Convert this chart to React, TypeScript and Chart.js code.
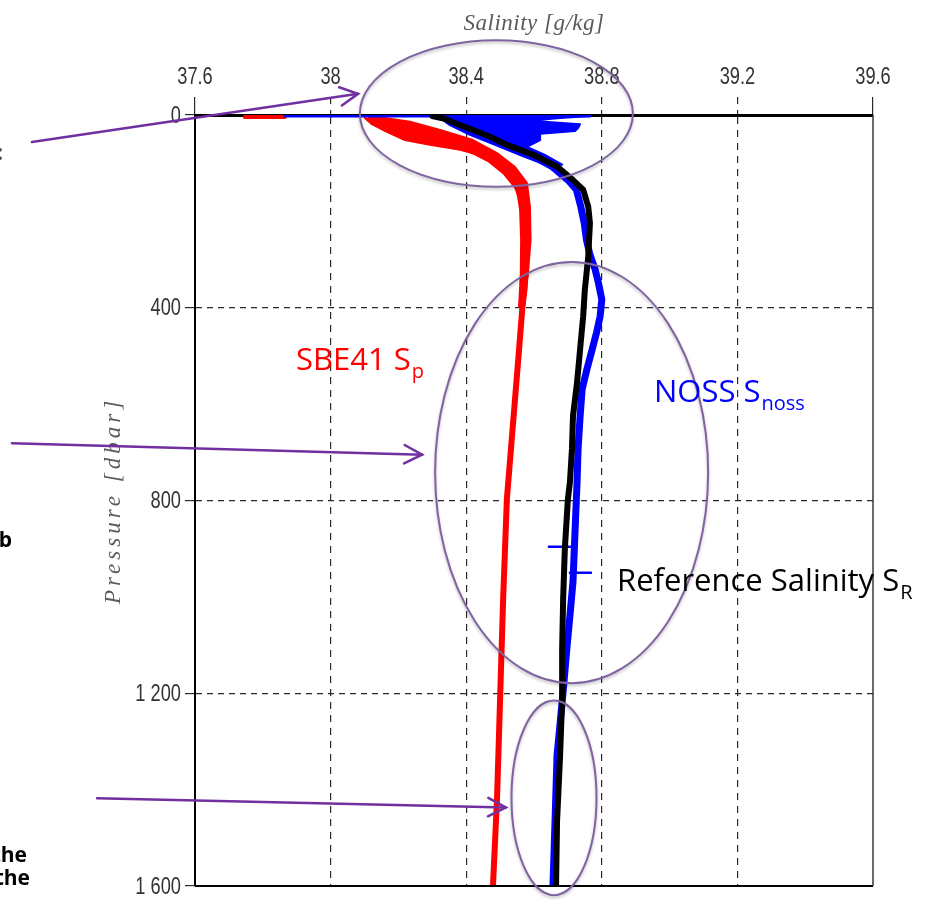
import React, { useEffect, useRef } from 'react';
import { Chart, registerables } from 'chart.js';

Chart.register(...registerables);

// ---- Axis ticks ----
const xTickValues = [37.6, 38, 38.4, 38.8, 39.2, 39.6];
const xTickLabels = ['37.6', '38', '38.4', '38.8', '39.2', '39.6'];
const yTickValues = [0, 400, 800, 1200, 1600];
const yTickLabels = ['0', '400', '800', '1 200', '1 600'];

// ---- Reference salinity S_R (black) ----
const refPressure = [2, 8, 17, 31, 45, 62, 83, 108, 135, 155, 190, 224, 294, 362, 418, 486, 555, 625, 693, 762, 797, 900, 1004, 1107, 1211, 1329, 1466, 1600];
const refSalinity = [38.30, 38.337, 38.367, 38.42, 38.47, 38.52, 38.60, 38.67, 38.715, 38.745, 38.76, 38.765, 38.76, 38.75, 38.745, 38.736, 38.727, 38.715, 38.712, 38.706, 38.70, 38.691, 38.686, 38.683, 38.683, 38.677, 38.668, 38.665];

// ---- NOSS S_noss (blue) ----
const nossPressure = [2, 8, 17, 31, 45, 62, 83, 108, 135, 155, 190, 224, 260, 290, 320, 348, 383, 418, 450, 480, 528, 569, 625, 693, 762, 865, 969, 1039, 1107, 1196, 1329, 1466, 1600];
const nossSalinity = [38.32, 38.40, 38.44, 38.48, 38.51, 38.54, 38.59, 38.655, 38.70, 38.725, 38.738, 38.748, 38.755, 38.765, 38.78, 38.79, 38.80, 38.795, 38.785, 38.774, 38.756, 38.742, 38.736, 38.73, 38.727, 38.721, 38.715, 38.706, 38.697, 38.686, 38.668, 38.662, 38.656];
// scattered near-surface NOSS envelope (outline of the spread of profiles)
const nossBandPressure = [2, 6, 12, 19, 27, 33, 39, 52, 66, 83, 103, 103, 83, 62, 41, 21, 6, 2];
const nossBandSalinity = [38.765, 38.677, 38.588, 38.736, 38.730, 38.721, 38.618, 38.618, 38.579, 38.632, 38.683, 38.632, 38.559, 38.485, 38.411, 38.352, 38.323, 38.323];
const nossSurfacePressure = [2, 2];
const nossSurfaceSalinity = [37.865, 38.765];
const nossSpikePressure = [896, 896, null, 950, 950];
const nossSpikeSalinity = [38.644, 38.706, null, 38.706, 38.768];

// ---- SBE41 S_p (red) ----
const sbePressure = [6, 14, 27, 41, 56, 72, 93, 118, 149, 186, 228, 294, 362, 397, 486, 590, 693, 797, 1004, 1211, 1418, 1600];
const sbeSalinity = [38.122, 38.146, 38.19, 38.264, 38.337, 38.411, 38.47, 38.514, 38.55, 38.568, 38.576, 38.577, 38.572, 38.566, 38.556, 38.544, 38.532, 38.52, 38.509, 38.50, 38.491, 38.479];
const sbeBandPressure = [6, 19, 33, 52, 62, 72, 87, 114, 155, 197, 259, 330, 397, 397, 330, 259, 190, 141, 108, 79, 52, 31, 14, 6, 4];
const sbeBandSalinity = [38.101, 38.122, 38.160, 38.219, 38.293, 38.382, 38.461, 38.514, 38.550, 38.559, 38.562, 38.561, 38.556, 38.571, 38.582, 38.590, 38.588, 38.579, 38.544, 38.491, 38.420, 38.323, 38.234, 38.160, 38.116];
const sbeSurfacePressure = [4, 4];
const sbeSurfaceSalinity = [37.747, 37.865];

// ---- Annotation shapes (in data units: salinity, pressure) ----
const ellipseShapes = [
  { s: 38.489, p: -3, ds: 0.4027, dp: 152 },
  { s: 38.711, p: 742, ds: 0.4027, dp: 437 },
  { s: 38.659, p: 1417, ds: 0.1254, dp: 202 },
];
const arrowShapes = [
  { s0: 37.119, p0: 56, s1: 38.081, p1: -44 },
  { s0: 37.060, p0: 681, s1: 38.270, p1: 705 },
  { s0: 37.311, p0: 1418, s1: 38.517, p1: 1437 },
];
const textLabels = [
  { main: 'SBE41 S', sub: 'p', s: 37.898, p: 530, color: '#ff0000' },
  { main: 'NOSS S', sub: 'noss', s: 38.954, p: 596, color: '#0000ff' },
  { main: 'Reference Salinity S', sub: 'R', s: 38.845, p: 987, color: '#000000' },
];

const zip = (xs: (number | null)[], ys: (number | null)[]) =>
  xs.map((v, i) => ({ x: v as any, y: ys[i] as any }));

const tickFont = "'Liberation Sans', Arial, sans-serif";

const overlayPlugin = {
  id: 'overlay',
  afterDraw(chart: any) {
    const { ctx, chartArea: a, scales } = chart;
    const X = (v: number) => scales.x.getPixelForValue(v);
    const Y = (v: number) => scales.y.getPixelForValue(v);
    ctx.save();

    // frame (bottom, right)
    ctx.setLineDash([]);
    ctx.strokeStyle = '#000';
    ctx.lineWidth = 2;
    ctx.beginPath();
    ctx.moveTo(a.left, a.bottom);
    ctx.lineTo(a.right, a.bottom);
    ctx.stroke();
    ctx.strokeStyle = '#3a3a3a';
    ctx.lineWidth = 1.5;
    ctx.beginPath();
    ctx.moveTo(a.right, a.top);
    ctx.lineTo(a.right, a.bottom);
    ctx.stroke();

    // tick labels (narrow, tall digits), placed on the scales' own ticks
    ctx.fillStyle = '#333';
    ctx.font = `24px ${tickFont}`;
    ctx.textBaseline = 'middle';
    ctx.textAlign = 'center';
    scales.x.ticks.forEach((t: any, i: number) => {
      ctx.save();
      ctx.translate(X(t.value), 77);
      ctx.scale(0.76, 1);
      ctx.fillText(xTickLabels[i], 0, 0);
      ctx.restore();
    });
    ctx.textAlign = 'right';
    scales.y.ticks.forEach((t: any, i: number) => {
      ctx.save();
      ctx.translate(a.left - 14, Y(t.value) + 1);
      ctx.scale(0.76, 1);
      ctx.fillText(yTickLabels[i], 0, 0);
      ctx.restore();
    });

    // axis titles
    ctx.fillStyle = '#5a5a5a';
    ctx.textAlign = 'center';
    ctx.textBaseline = 'middle';
    ctx.font = "italic 23px 'Liberation Serif', 'DejaVu Serif', serif";
    (ctx as any).letterSpacing = '0.5px';
    ctx.fillText('Salinity [g/kg]', (a.left + a.right) / 2, 24);
    ctx.save();
    ctx.translate(114, (a.top + a.bottom) / 2);
    ctx.rotate(-Math.PI / 2);
    (ctx as any).letterSpacing = '4px';
    ctx.fillText('Pressure [dbar]', 0, 0);
    ctx.restore();
    (ctx as any).letterSpacing = '0px';

    // ellipses
    ctx.save();
    ctx.strokeStyle = '#8064A2';
    ctx.lineWidth = 2;
    ctx.shadowColor = 'rgba(0,0,0,0.25)';
    ctx.shadowBlur = 3;
    ctx.shadowOffsetY = 2;
    for (const e of ellipseShapes) {
      const cx = X(e.s);
      const cy = Y(e.p);
      const rx = Math.abs(X(e.s + e.ds) - cx);
      const ry = Math.abs(Y(e.p + e.dp) - cy);
      ctx.beginPath();
      ctx.ellipse(cx, cy, rx, ry, 0, 0, Math.PI * 2);
      ctx.stroke();
    }
    ctx.restore();

    // arrows
    ctx.strokeStyle = '#7030A0';
    ctx.lineWidth = 2.5;
    ctx.lineCap = 'round';
    for (const ar of arrowShapes) {
      const x0 = X(ar.s0), y0 = Y(ar.p0), x1 = X(ar.s1), y1 = Y(ar.p1);
      ctx.beginPath();
      ctx.moveTo(x0, y0);
      ctx.lineTo(x1, y1);
      ctx.stroke();
      const ang = Math.atan2(y1 - y0, x1 - x0);
      const L = 20, spread = 0.48;
      ctx.beginPath();
      ctx.moveTo(x1 - L * Math.cos(ang - spread), y1 - L * Math.sin(ang - spread));
      ctx.lineTo(x1, y1);
      ctx.lineTo(x1 - L * Math.cos(ang + spread), y1 - L * Math.sin(ang + spread));
      ctx.stroke();
    }

    // text labels with subscripts
    ctx.textAlign = 'left';
    ctx.textBaseline = 'alphabetic';
    for (const t of textLabels) {
      const x = X(t.s), y = Y(t.p);
      ctx.fillStyle = t.color;
      ctx.font = "31px 'Open Sans', 'Noto Sans', sans-serif";
      ctx.fillText(t.main, x, y);
      const w = ctx.measureText(t.main).width;
      ctx.font = "20px 'Open Sans', 'Noto Sans', sans-serif";
      ctx.fillText(t.sub, x + w + 1, y + 8);
    }

    // clipped text fragments from the surrounding slide, at the left edge
    ctx.fillStyle = '#000';
    ctx.textAlign = 'right';
    ctx.font = "bold 21px 'Open Sans', 'Noto Sans', sans-serif";
    ctx.fillText('b', 12, 547);
    ctx.fillText('the', 27, 862);
    ctx.fillText('the', 30, 885);
    ctx.fillStyle = '#444';
    ctx.fillText(':', 3, 160);

    ctx.restore();
  },
};

const edgeX = (c: any) => c.index === 0 || c.index === xTickValues.length - 1;
const edgeY = (c: any) => c.index === 0 || c.index === yTickValues.length - 1;

export default function App() {
  const canvasRef = useRef<HTMLCanvasElement | null>(null);

  useEffect(() => {
    if (!canvasRef.current) return;
    const lineBase = {
      pointRadius: 0,
      pointHoverRadius: 0,
      tension: 0,
      fill: false,
      spanGaps: false,
      borderJoinStyle: 'round' as const,
      borderCapStyle: 'round' as const,
    };
    const chart = new Chart(canvasRef.current, {
      type: 'line',
      data: {
        datasets: [
          { ...lineBase, label: 'Reference Salinity S_R', data: zip(refSalinity, refPressure), borderColor: '#000000', borderWidth: 6 },
          { ...lineBase, label: 'NOSS spikes', data: zip(nossSpikeSalinity, nossSpikePressure), borderColor: '#0000ff', borderWidth: 2.5 },
          { ...lineBase, label: 'NOSS surface', data: zip(nossSurfaceSalinity, nossSurfacePressure), borderColor: '#0000ff', borderWidth: 3 },
          { ...lineBase, label: 'NOSS spread', data: zip(nossBandSalinity, nossBandPressure), borderColor: '#0000ff', backgroundColor: '#0000ff', borderWidth: 2, fill: 'shape' as any },
          { ...lineBase, label: 'NOSS S_noss', data: zip(nossSalinity, nossPressure), borderColor: '#0000ff', borderWidth: 7 },
          { ...lineBase, label: 'SBE41 surface', data: zip(sbeSurfaceSalinity, sbeSurfacePressure), borderColor: '#ff0000', borderWidth: 4 },
          { ...lineBase, label: 'SBE41 spread', data: zip(sbeBandSalinity, sbeBandPressure), borderColor: '#ff0000', backgroundColor: '#ff0000', borderWidth: 2, fill: 'shape' as any },
          { ...lineBase, label: 'SBE41 S_p', data: zip(sbeSalinity, sbePressure), borderColor: '#ff0000', borderWidth: 6 },
        ],
      },
      options: {
        responsive: false,
        maintainAspectRatio: false,
        animation: false,
        devicePixelRatio: 1,
        events: [],
        layout: { padding: { left: 0, top: 0, right: 65, bottom: 12 } },
        plugins: {
          legend: { display: false },
          tooltip: { enabled: false },
          title: { display: false },
        },
        scales: {
          x: {
            type: 'linear',
            position: 'top',
            min: 37.6,
            max: 39.6,
            afterBuildTicks: (s: any) => {
              s.ticks = xTickValues.map((v) => ({ value: v }));
            },
            afterFit: (s: any) => {
              s.height = 115;
            },
            ticks: {
              callback: (_v: any, i: number) => xTickLabels[i],
              color: 'rgba(0,0,0,0)',
              font: { family: tickFont, size: 20, lineHeight: 1 },
              padding: 9,
              maxRotation: 0,
              autoSkip: false,
            },
            grid: {
              color: (c: any) => (edgeX(c) ? 'rgba(0,0,0,0)' : '#2a2a2a'),
              lineWidth: 1.2,
              tickLength: 18,
              tickColor: '#2a2a2a',
              tickWidth: 1.2,
              tickBorderDash: (c: any) => (edgeX(c) ? [] : [7, 6]),
            } as any,
            border: { display: true, color: '#000', width: 3, dash: [7, 6] },
          },
          y: {
            type: 'linear',
            reverse: true,
            min: 0,
            max: 1600,
            afterBuildTicks: (s: any) => {
              s.ticks = yTickValues.map((v) => ({ value: v }));
            },
            afterFit: (s: any) => {
              s.width = 195;
            },
            ticks: {
              callback: (_v: any, i: number) => yTickLabels[i],
              color: 'rgba(0,0,0,0)',
              font: { family: tickFont, size: 20, lineHeight: 1 },
              padding: 4,
              autoSkip: false,
            },
            grid: {
              color: (c: any) => (edgeY(c) ? 'rgba(0,0,0,0)' : '#2a2a2a'),
              lineWidth: 1.2,
              tickLength: 10,
              tickColor: '#2a2a2a',
              tickWidth: 1.2,
              tickBorderDash: [],
            } as any,
            border: { display: true, color: '#000', width: 2, dash: [6, 5] },
          },
        },
      } as any,
      plugins: [overlayPlugin],
    });
    return () => chart.destroy();
  }, []);

  return (
    <div style={{ position: 'absolute', left: 0, top: 0, width: 938, height: 900, background: '#fff' }}>
      <canvas ref={canvasRef} width={938} height={900} style={{ width: 938, height: 900, display: 'block' }} />
    </div>
  );
}
